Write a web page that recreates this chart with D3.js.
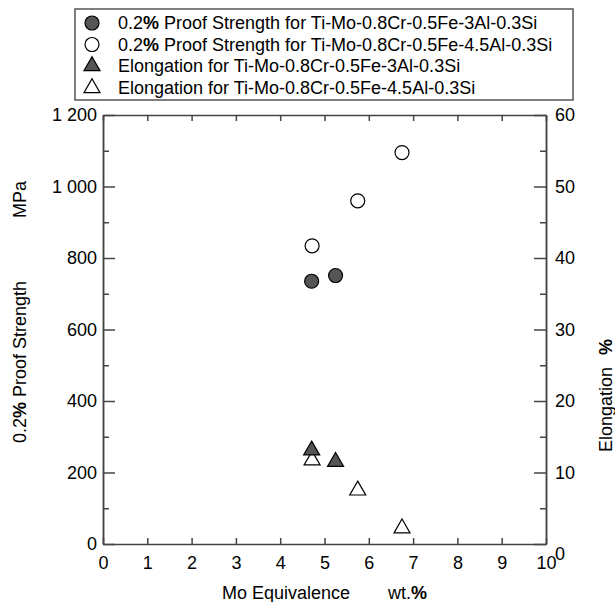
<!DOCTYPE html>
<html>
<head>
<meta charset="utf-8">
<script src="https://cdn.jsdelivr.net/npm/d3@7"></script>
<style>
  body { margin: 0; background: #fff; }
  svg { font-family: "Liberation Sans", Arial, sans-serif; }
  .axis path, .axis line { stroke: #444; stroke-width: 1.5; }
  .axis text { font-size: 18px; fill: #000; font-family: "Liberation Sans", Arial, sans-serif; }
</style>
</head>
<body>
<div class="chart"></div>
<script>
// data
const moEq3Al = [4.71, 5.25];
const proof3Al = [735, 751];
const elong3Al = [13.1, 11.5];

const moEq45Al = [4.72, 5.75, 6.75];
const proof45Al = [834, 960, 1095];
const elong45Al = [11.7, 7.5, 2.2];

const xTicks = [0, 1, 2, 3, 4, 5, 6, 7, 8, 9, 10];
const leftTicks = [0, 200, 400, 600, 800, 1000, 1200];
const rightTicks = [0, 10, 20, 30, 40, 50, 60];

const legendLabels = [
  ["0.2", "%", " Proof Strength for Ti-Mo-0.8Cr-0.5Fe-3Al-0.3Si"],
  ["0.2", "%", " Proof Strength for Ti-Mo-0.8Cr-0.5Fe-4.5Al-0.3Si"],
  ["Elongation for Ti-Mo-0.8Cr-0.5Fe-3Al-0.3Si", "", ""],
  ["Elongation for Ti-Mo-0.8Cr-0.5Fe-4.5Al-0.3Si", "", ""]
];

const W = 615, H = 602;
const plot = { left: 103, right: 546, top: 115, bottom: 544 };

const svg = d3.select(".chart")
  .append("svg")
  .attr("width", W)
  .attr("height", H);

const xScale = d3.scaleLinear().domain([0, 10]).range([plot.left, plot.right]);
const yLeft = d3.scaleLinear().domain([0, 1200]).range([plot.bottom, plot.top]);
const yRight = d3.scaleLinear().domain([0, 60]).range([plot.bottom, plot.top]);

const fmt = d3.formatLocale({ decimal: ".", thousands: " ", grouping: [3], currency: ["", ""] }).format(",");

// axes, ticks pointing inward
svg.append("g")
  .attr("class", "axis")
  .attr("transform", `translate(0,${plot.bottom})`)
  .call(d3.axisBottom(xScale).tickValues(xTicks).tickSize(-6).tickSizeOuter(0).tickPadding(12));

svg.append("g")
  .attr("class", "axis")
  .attr("transform", `translate(0,${plot.top})`)
  .call(d3.axisTop(xScale).tickValues(xTicks).tickSize(-6).tickSizeOuter(0).tickFormat(""));

svg.append("g")
  .attr("class", "axis")
  .attr("transform", `translate(${plot.left},0)`)
  .call(d3.axisLeft(yLeft).tickValues(leftTicks).tickSize(-12).tickSizeOuter(0).tickPadding(6).tickFormat(fmt));

svg.append("g")
  .attr("class", "axis")
  .attr("transform", `translate(${plot.left},0)`)
  .call(d3.axisLeft(yLeft).tickValues(d3.range(100, 1200, 200)).tickSize(-6).tickSizeOuter(0).tickFormat(""));

const rightAxis = svg.append("g")
  .attr("class", "axis")
  .attr("transform", `translate(${plot.right},0)`)
  .call(d3.axisRight(yRight).tickValues(rightTicks).tickSize(-12).tickSizeOuter(0).tickPadding(9));

svg.append("g")
  .attr("class", "axis")
  .attr("transform", `translate(${plot.right},0)`)
  .call(d3.axisRight(yRight).tickValues(d3.range(5, 60, 10)).tickSize(-6).tickSizeOuter(0).tickFormat(""));

// the zero on the right sits a little below the corner
rightAxis.selectAll(".tick text").filter(d => d === 0).attr("dy", "0.85em");

// axis titles
const xTitle = svg.append("text")
  .attr("x", 222)
  .attr("y", 599)
  .attr("font-size", 18);
xTitle.append("tspan").text("Mo Equivalence");
xTitle.append("tspan").attr("x", 388).text("wt.");
xTitle.append("tspan").attr("font-weight", "bold").text("%");

const yTitle = svg.append("text")
  .attr("transform", "translate(26,443) rotate(-90)")
  .attr("font-size", 18);
yTitle.append("tspan").text("0.2");
yTitle.append("tspan").attr("font-weight", "bold").text("%");
yTitle.append("tspan").text(" Proof Strength");
yTitle.append("tspan").attr("x", 225).text("MPa");

const y2Title = svg.append("text")
  .attr("transform", "translate(612,452) rotate(-90)")
  .attr("font-size", 18);
y2Title.append("tspan").text("Elongation");
y2Title.append("tspan").attr("x", 97).attr("font-weight", "bold").text("%");

// points
const circle = d3.symbol().type(d3.symbolCircle).size(154);
const tri = d3.symbol().type(d3.symbolTriangle).size(111);

const dark = "#555";

svg.selectAll(".c45")
  .data(moEq45Al)
  .join("path")
  .attr("class", "c45")
  .attr("d", circle)
  .attr("transform", (d, i) => `translate(${xScale(d)},${yLeft(proof45Al[i])})`)
  .attr("fill", "#fff")
  .attr("stroke", "#000")
  .attr("stroke-width", 1.2);

svg.selectAll(".c3")
  .data(moEq3Al)
  .join("path")
  .attr("class", "c3")
  .attr("d", circle)
  .attr("transform", (d, i) => `translate(${xScale(d)},${yLeft(proof3Al[i])})`)
  .attr("fill", dark)
  .attr("stroke", "#000")
  .attr("stroke-width", 1.2);

svg.selectAll(".t45")
  .data(moEq45Al)
  .join("path")
  .attr("class", "t45")
  .attr("d", tri)
  .attr("transform", (d, i) => `translate(${xScale(d)},${yRight(elong45Al[i])})`)
  .attr("fill", "#fff")
  .attr("stroke", "#000")
  .attr("stroke-width", 1.2);

svg.selectAll(".t3")
  .data(moEq3Al)
  .join("path")
  .attr("class", "t3")
  .attr("d", tri)
  .attr("transform", (d, i) => `translate(${xScale(d)},${yRight(elong3Al[i])})`)
  .attr("fill", dark)
  .attr("stroke", "#000")
  .attr("stroke-width", 1.2);

// legend
const legend = svg.append("g");
legend.append("rect")
  .attr("x", 75).attr("y", 9)
  .attr("width", 498).attr("height", 91)
  .attr("fill", "#fff")
  .attr("stroke", "#555")
  .attr("stroke-width", 1.5);

const legendSym = [
  { sym: circle, fill: dark },
  { sym: circle, fill: "#fff" },
  { sym: tri, fill: dark },
  { sym: tri, fill: "#fff" }
];
const rowY = [29, 50.5, 72, 94];

legendSym.forEach((s, i) => {
  legend.append("path")
    .attr("d", s.sym)
    .attr("transform", `translate(92,${rowY[i] - 6})`)
    .attr("fill", s.fill)
    .attr("stroke", "#000")
    .attr("stroke-width", 1.2);
  const t = legend.append("text")
    .attr("x", 118)
    .attr("y", rowY[i])
    .attr("font-size", 18);
  t.append("tspan").text(legendLabels[i][0]);
  t.append("tspan").attr("font-weight", "bold").text(legendLabels[i][1]);
  t.append("tspan").text(legendLabels[i][2]);
});
</script>
</body>
</html>
